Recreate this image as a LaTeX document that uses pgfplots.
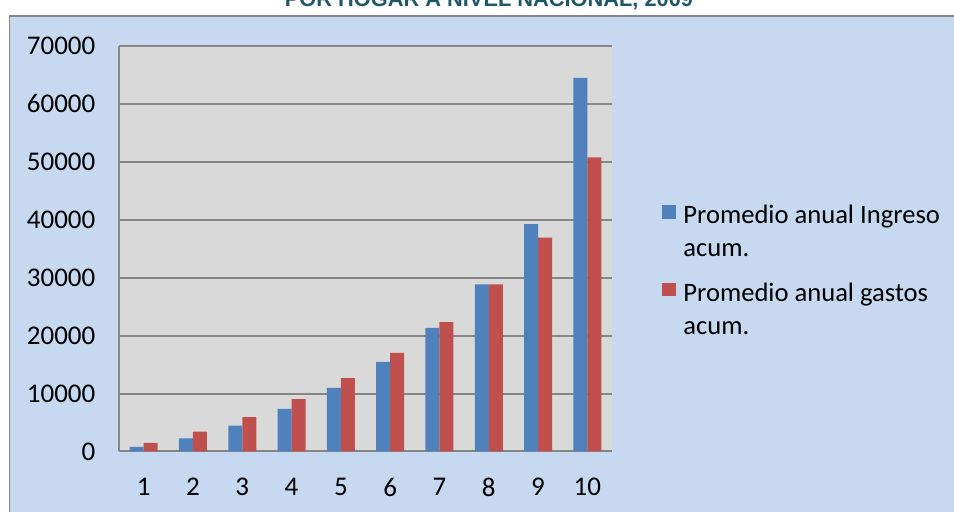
\documentclass[border=0pt]{standalone}
\usepackage{fontspec}
\setmainfont{Carlito}
\newfontfamily\titlefont{Liberation Sans}
\usepackage{pgfplots}
\pgfplotsset{compat=1.18}
\definecolor{bgblue}{HTML}{C6D9F1}
\definecolor{plotgray}{HTML}{D9D9D9}
\definecolor{gridgray}{HTML}{868686}
\definecolor{serblue}{HTML}{4F81BD}
\definecolor{serred}{HTML}{C0504D}
\definecolor{titlecol}{HTML}{215868}
\begin{document}
\begin{tikzpicture}
\useasboundingbox (0pt,0pt) rectangle (477pt,256pt);
\fill[white] (0pt,0pt) rectangle (477pt,256pt);
\filldraw[fill=bgblue, draw=gridgray, line width=0.8pt] (4.75pt,-5pt) rectangle (485pt,248pt);
\node[anchor=base, font=\titlefont\bfseries\fontsize{10.9}{13}\selectfont, text=titlecol, inner sep=0pt] at (244.5pt,252.5pt) {POR HOGAR A NIVEL NACIONAL, 2009};
\begin{axis}[
  at={(59.5pt,30.25pt)}, anchor=south west,
  scale only axis, width=246.5pt, height=202.9pt,
  xmin=0.5, xmax=10.5, ymin=0, ymax=70000,
  axis background/.style={fill=plotgray},
  axis x line=bottom, axis y line=left,
  axis line style={draw=gridgray, line width=1pt, -},
  ymajorgrids, grid style={draw=gridgray, line width=1pt},
  xtick={1,...,10}, ytick={0,10000,...,70000},
  tick style={draw=none},
  scaled y ticks=false,
  /pgf/number format/assume math mode=true,
  /pgf/number format/set thousands separator={},
  ticklabel style={font=\fontsize{13.5}{16.2}\selectfont},
  yticklabel style={anchor=east, inner sep=0pt, xshift=-9.5pt},
  xticklabel style={anchor=north, inner sep=0pt, yshift=-8.8pt},
  ybar=0pt, bar width=7pt,
  legend style={at={(1.1014,0.617)}, anchor=north west, draw=none, fill=none,
    inner sep=0pt, row sep=7.4pt, column sep=1.5pt,
    font=\fontsize{13.3}{16.5}\selectfont,
    cells={anchor=west, align=left, inner sep=0pt}},
  legend image code/.code={\fill[#1] (0pt,7.0pt) rectangle (7pt,13.7pt);},
]
\addplot[fill=serblue, draw=none] coordinates {
(1,800) (2,2280) (3,4460) (4,7340) (5,10970) (6,15460) (7,21330) (8,28810) (9,39240) (10,64460)};
\addlegendentry{Promedio anual Ingreso\\acum.}
\addplot[fill=serred, draw=none] coordinates {
(1,1470) (2,3420) (3,5910) (4,9020) (5,12640) (6,17010) (7,22310) (8,28810) (9,36870) (10,50740)};
\addlegendentry{Promedio anual gastos\\acum.}
\end{axis}
\end{tikzpicture}
\end{document}
